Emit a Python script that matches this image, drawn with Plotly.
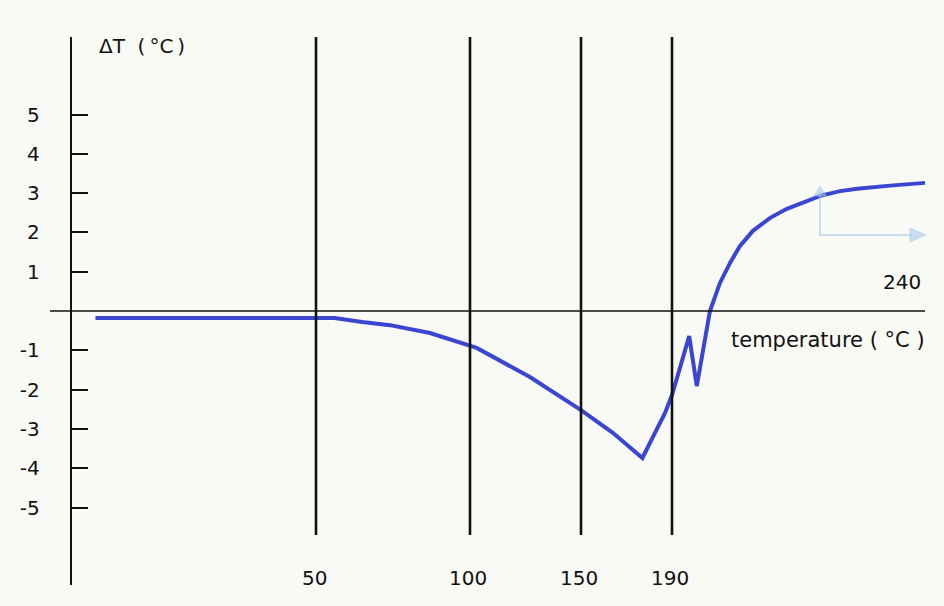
import numpy as np
import plotly.graph_objects as go

# --- data -------------------------------------------------------------
# DTA trace: temperature (°C) vs. temperature difference ΔT (°C)
temperature = [5, 56, 65, 74, 87, 103, 127, 150, 164, 177, 182.5, 186.9,
               190, 191.6, 193.4, 194.9, 197.5, 199.5, 201.5, 203.4, 206.0,
               209.4, 212.7, 215.9, 219.3, 223.2, 226.6, 233.1, 240]
delta_t = [-0.18, -0.18, -0.28, -0.36, -0.56, -0.94, -1.68, -2.52, -3.10,
           -3.74, -3.10, -2.60, -2.14, -1.40, -0.64, -1.91, 0.00, 0.72,
           1.23, 1.65, 2.04, 2.37, 2.60, 2.76, 2.93, 3.05, 3.11, 3.19, 3.26]

x_tick_temps = [50, 100, 150, 190]
x_tick_labels = ["50", "100", "150", "190"]
x_end_temp = 240
x_end_label = "240"

y_tick_vals = [-5, -4, -3, -2, -1, 1, 2, 3, 4, 5]
y_tick_labels = ["-5", "-4", "-3", "-2", "-1", "1", "2", "3", "4", "5"]

# --- schematic (non-uniform) temperature scale -------------------------
SCALE_TEMPS = [0, 50, 100, 150, 190, 240]
SCALE_POS = [71, 316, 470, 581, 672, 925]


def to_pos(t):
    return np.interp(t, SCALE_TEMPS, SCALE_POS)


W, H = 944, 606
INK = "#111111"
BLUE = "#3a46d2"
FONT = "DejaVu Sans"
FS = 20

fig = go.Figure()

fig.add_trace(go.Scatter(
    x=to_pos(temperature), y=delta_t, mode="lines",
    line=dict(color=BLUE, width=4), hoverinfo="skip", showlegend=False,
))

shapes = []
# vertical guide lines at the marked temperatures
for t in x_tick_temps:
    p = float(to_pos(t))
    shapes.append(dict(type="line", xref="x", yref="y", x0=p, x1=p,
                       y0=-5.70, y1=6.97, line=dict(color=INK, width=2.6)))
# horizontal zero axis
shapes.append(dict(type="line", xref="x", yref="y", x0=50, x1=925,
                   y0=0, y1=0, line=dict(color=INK, width=1.6)))
# light-blue arrow in the upper right
ARROW = "rgba(160,200,232,0.55)"
shapes.append(dict(type="path", xref="paper", yref="paper",
                   path="M %f %f L %f %f L %f %f" % (
                       820 / W, 1 - 192 / H, 820 / W, 1 - 235 / H,
                       912 / W, 1 - 235 / H),
                   line=dict(color=ARROW, width=2)))
shapes.append(dict(type="path", xref="paper", yref="paper",
                   path="M %f %f L %f %f L %f %f Z" % (
                       910 / W, 1 - 228 / H, 926 / W, 1 - 235 / H,
                       910 / W, 1 - 242 / H),
                   fillcolor=ARROW, line=dict(color=ARROW, width=1)))
shapes.append(dict(type="path", xref="paper", yref="paper",
                   path="M %f %f L %f %f L %f %f Z" % (
                       814 / W, 1 - 196 / H, 820 / W, 1 - 186 / H,
                       826 / W, 1 - 196 / H),
                   fillcolor=ARROW, line=dict(color=ARROW, width=1)))

annotations = []
for t, lab in zip(x_tick_temps, x_tick_labels):
    annotations.append(dict(x=float(to_pos(t)) - 2, y=1 - 578 / H, xref="x",
                            yref="paper", text=lab, showarrow=False,
                            xanchor="center", yanchor="middle",
                            font=dict(family=FONT, size=FS, color=INK)))
annotations.append(dict(x=float(to_pos(x_end_temp)) - 2, y=0.74, xref="x",
                        yref="y", text=x_end_label, showarrow=False,
                        xanchor="right", yanchor="middle",
                        font=dict(family=FONT, size=FS, color=INK)))
annotations.append(dict(x=927, y=-0.74, xref="x", yref="y",
                        text="temperature\u00a0(\u00a0°C\u00a0)",
                        showarrow=False, xanchor="right", yanchor="middle",
                        font=dict(family=FONT, size=21, color=INK)))
annotations.append(dict(x=97 / W, y=1 - 46 / H, xref="paper", yref="paper",
                        text="ΔT\u00a0\u00a0(\u2009°C\u2009)", showarrow=False,
                        xanchor="left", yanchor="middle",
                        font=dict(family=FONT, size=20, color=INK)))

fig.update_layout(
    width=W, height=H,
    margin=dict(l=0, r=0, t=0, b=0),
    paper_bgcolor="#f9f9f5", plot_bgcolor="rgba(0,0,0,0)",
    xaxis=dict(range=[0, W], domain=[0, 1], visible=False, fixedrange=True),
    yaxis=dict(
        range=[-6.972, 6.972], domain=[21 / H, 1 - 37 / H],
        anchor="free", position=71 / W, side="left",
        showline=True, linecolor=INK, linewidth=2.4,
        showgrid=False, zeroline=False,
        ticks="inside", ticklen=16, tickwidth=2, tickcolor=INK,
        tickvals=y_tick_vals, ticktext=y_tick_labels,
        ticklabelstandoff=26,
        tickfont=dict(family=FONT, size=FS, color=INK),
        fixedrange=True,
    ),
    shapes=shapes, annotations=annotations,
)

fig.write_html("out.html")
